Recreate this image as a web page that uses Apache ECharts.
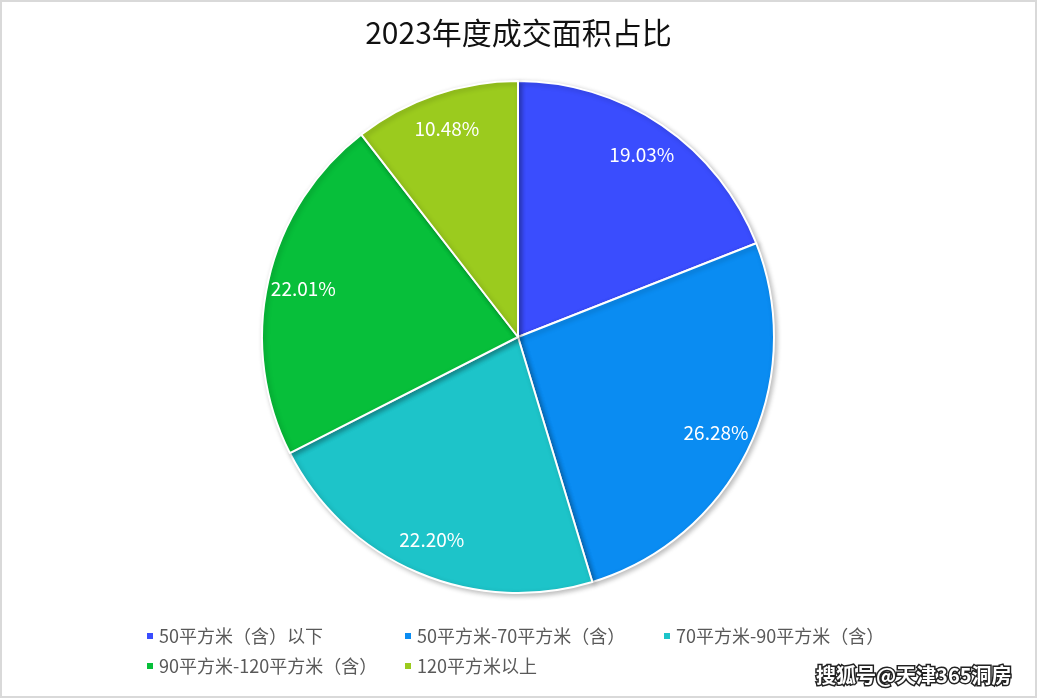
<!DOCTYPE html>
<html><head><meta charset="utf-8">
<script src="https://cdn.jsdelivr.net/npm/echarts@6/dist/echarts.min.js"></script>
<style>html,body{margin:0;padding:0;background:#fff}#c{width:1037px;height:698px}</style>
</head><body><div id="c"></div>
<script>
var categories = ['50平方米（含）以下','50平方米-70平方米（含）','70平方米-90平方米（含）','90平方米-120平方米（含）','120平方米以上'];
var values = [19.03, 26.28, 22.20, 22.01, 10.48];
var colors = ['#3a4dfe','#0a8cf2','#1dc4c9','#07bf3a','#9bcb1e'];
var titleText = '2023年度成交面积占比';
var watermark = '搜狐号@天津365洞房';

var data = categories.map(function(n,i){return {name:n, value:values[i], itemStyle:{color:colors[i]}};});
var font = '"Noto Sans CJK SC", "Microsoft YaHei", sans-serif';
var legendPos = [[140,622],[398,622],[657,622],[140,652],[398,652]];
var legends = categories.map(function(n,i){
  return {data:[n], left:legendPos[i][0], top:legendPos[i][1], icon:'rect', itemWidth:8, itemHeight:8, itemGap:6,
    textStyle:{color:'#595959', fontSize:18, fontFamily:font}, selectedMode:false};
});
var labelData = categories.map(function(n,i){return {name:n, value:values[i]};});
var chart = echarts.init(document.getElementById('c'));
chart.setOption({
  backgroundColor:'#fff',
  animation:false,
  title:{text:titleText, left:'center', top:13, textStyle:{fontSize:30, fontWeight:'normal', color:'#111', fontFamily:font}},
  legend:legends,
  graphic:[
    {type:'rect', shape:{x:1,y:1,width:1035,height:696}, style:{fill:'none', stroke:'#d9d9d9', lineWidth:2}, silent:true},
    {type:'text', right:24, top:664, style:{text:watermark, fill:'#fff', stroke:'#222', lineWidth:3, fontSize:20, fontWeight:'bold', fontFamily:font}, z:100}
  ],
  series:[
    {type:'pie', center:[518,337], radius:[0,256], startAngle:90, clockwise:true, data:data,
      itemStyle:{borderColor:'#fff', borderWidth:2, shadowBlur:5, shadowColor:'rgba(0,0,0,0.25)', shadowOffsetX:2, shadowOffsetY:2},
      label:{show:false}, labelLine:{show:false}, emphasis:{disabled:true}, silent:true},
    {type:'pie', center:[518,337], radius:[178,256], startAngle:90, clockwise:true, data:labelData,
      itemStyle:{color:'rgba(0,0,0,0)', borderWidth:0}, legendHoverLink:false,
      label:{show:true, position:'inside', color:'#fff', fontSize:19, fontFamily:font,
        formatter:function(p){return p.value.toFixed(2)+'%';}},
      labelLine:{show:false}, emphasis:{disabled:true}, silent:true, z:5}
  ]
});
</script></body></html>
